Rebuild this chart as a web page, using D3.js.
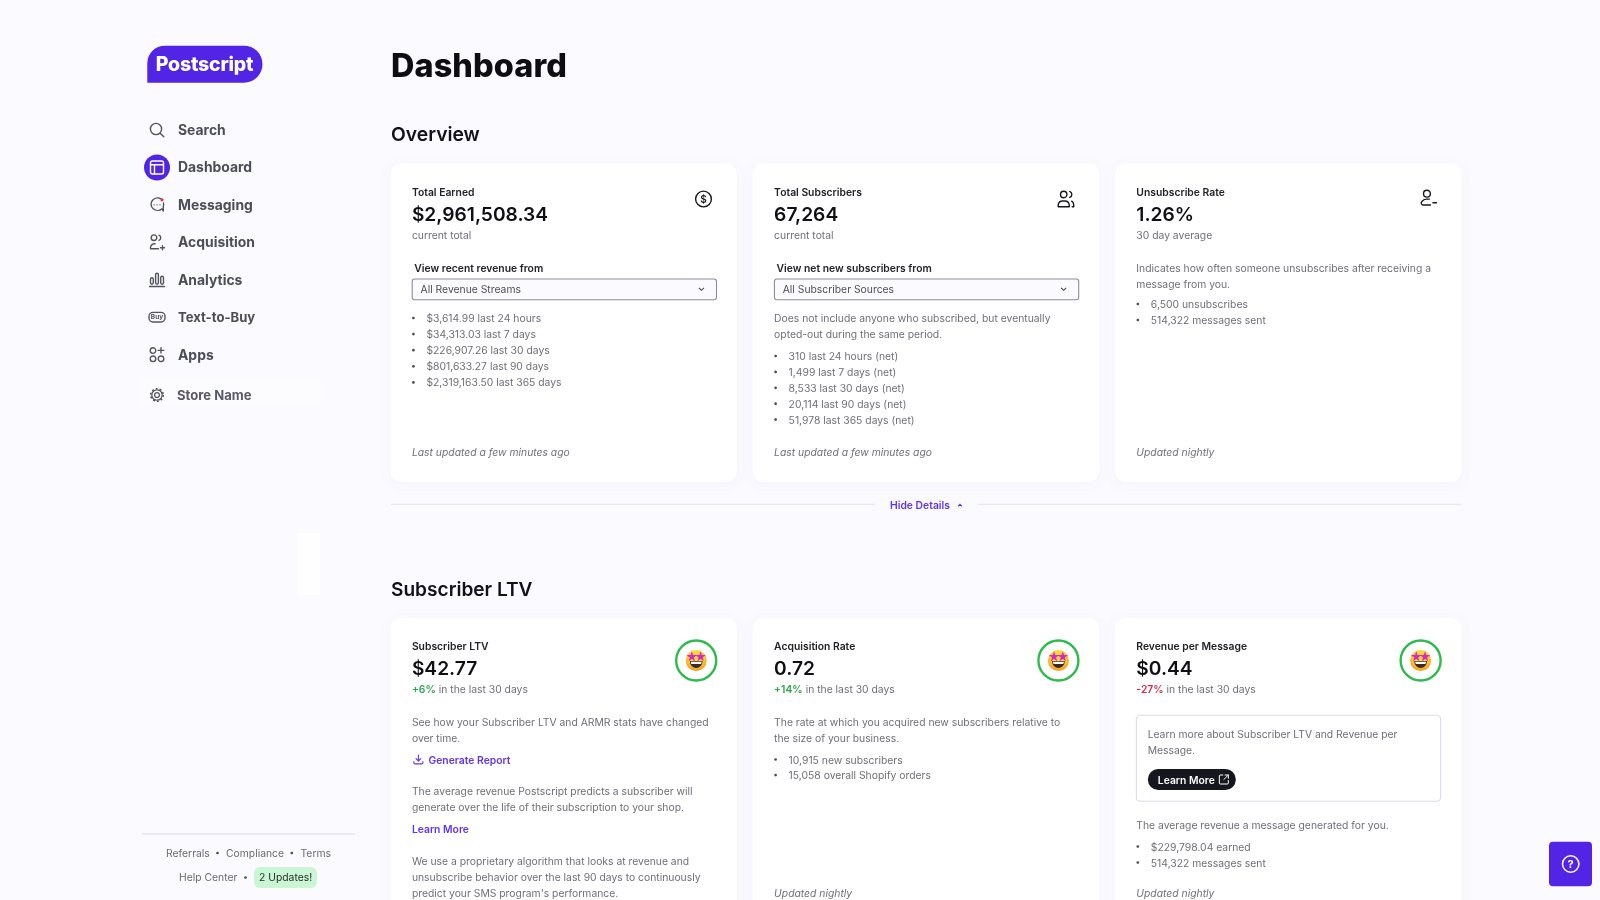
<!DOCTYPE html>
<html><head><meta charset="utf-8">
<script src="https://cdn.jsdelivr.net/npm/d3@7"></script>
<style>
html,body{margin:0;padding:0;background:#fafaff;overflow:hidden}
svg{display:block;filter:blur(0.35px)}
text{font-family:Inter,"Noto Sans",sans-serif;dominant-baseline:central}
</style></head><body>
<svg id="page" width="1600" height="900"></svg>
<script>
// ---------- content ----------
const navItems = ["Search","Dashboard","Messaging","Acquisition","Analytics","Text-to-Buy","Apps"];
const footerRow1 = ["Referrals","Compliance","Terms"];
const overviewTitles = ["Total Earned","Total Subscribers","Unsubscribe Rate"];
const overviewValues = ["$2,961,508.34","67,264","1.26%"];
const overviewSubs = ["current total","current total","30 day average"];
const selectLabels = ["View recent revenue from","View net new subscribers from"];
const selectValues = ["All Revenue Streams","All Subscriber Sources"];
const revenueList = ["$3,614.99 last 24 hours","$34,313.03 last 7 days","$226,907.26 last 30 days","$801,633.27 last 90 days","$2,319,163.50 last 365 days"];
const subscribersNote = ["Does not include anyone who subscribed, but eventually","opted-out during the same period."];
const subscribersList = ["310 last 24 hours (net)","1,499 last 7 days (net)","8,533 last 30 days (net)","20,114 last 90 days (net)","51,978 last 365 days (net)"];
const unsubNote = ["Indicates how often someone unsubscribes after receiving a","message from you."];
const unsubList = ["6,500 unsubscribes","514,322 messages sent"];
const overviewFooters = ["Last updated a few minutes ago","Last updated a few minutes ago","Updated nightly"];
const ltvTitles = ["Subscriber LTV","Acquisition Rate","Revenue per Message"];
const ltvValues = ["$42.77","0.72","$0.44"];
const ltvChanges = ["+6%","+14%","-27%"];
const ltvChangeSuffix = "in the last 30 days";
const ltvNote1 = ["See how your Subscriber LTV and ARMR stats have changed","over time."];
const ltvNote2 = ["The average revenue Postscript predicts a subscriber will","generate over the life of their subscription to your shop."];
const ltvNote3 = ["We use a proprietary algorithm that looks at revenue and","unsubscribe behavior over the last 90 days to continuously","predict your SMS program's performance."];
const acqNote = ["The rate at which you acquired new subscribers relative to","the size of your business."];
const acqList = ["10,915 new subscribers","15,058 overall Shopify orders"];
const rpmBox = ["Learn more about Subscriber LTV and Revenue per","Message."];
const rpmNote = "The average revenue a message generated for you.";
const rpmList = ["$229,798.04 earned","514,322 messages sent"];

// ---------- layout scales ----------
const svg = d3.select("#page");
const cardX = d3.scaleBand().domain([0,1,2]).range([390.5,1461.4]).paddingInner(0.0435).paddingOuter(0);
const navY = d3.scalePoint().domain(navItems).range([130,354.6]);
const INK="#17171f", GREY="#6f6f7a", PURPLE="#5f34f2", LINE="#e8e8f0";
const BODY=10.35, SMALLHEAD=10.35, VALUE=19.2;

const defs = svg.append("defs");
const sh = defs.append("filter").attr("id","cardShadow").attr("x","-5%").attr("y","-5%").attr("width","110%").attr("height","110%");
sh.append("feDropShadow").attr("dx",0).attr("dy",2).attr("stdDeviation",6).attr("flood-color","#8080b0").attr("flood-opacity",0.05);
const grad = defs.append("radialGradient").attr("id","emojiFace").attr("cy","35%").attr("r","70%");
grad.append("stop").attr("offset","45%").attr("stop-color","#fdd835");
grad.append("stop").attr("offset","100%").attr("stop-color","#f58e1e");

function txt(g,x,y,s,opt={}){
  return g.append("text").attr("x",x).attr("y",y).text(s)
    .attr("font-size",opt.size||BODY).attr("font-weight",opt.weight||400)
    .attr("fill",opt.fill||GREY).attr("font-style",opt.italic?"italic":null)
    .attr("letter-spacing",opt.ls||null).attr("font-family",opt.family||null)
    .attr("text-anchor",opt.anchor||null);
}
function lines(g,x,y0,arr,step=15.95){
  g.selectAll(null).data(arr).join("text")
   .attr("x",x).attr("y",(d,i)=>y0+i*step).text(d=>d)
   .attr("font-size",BODY).attr("fill",GREY);
}
function bullets(g,xBullet,xText,y0,arr,step=15.8){
  lines(g,xText,y0,arr,step);
  g.selectAll(null).data(arr).join("circle")
   .attr("cx",xBullet).attr("cy",(d,i)=>y0+i*step).attr("r",1.35).attr("fill","#4a4a55");
}
function icon(x,y,color=INK,w=1.4){
  return svg.append("g").attr("transform",`translate(${x},${y})`)
    .attr("fill","none").attr("stroke",color).attr("stroke-width",w)
    .attr("stroke-linecap","round").attr("stroke-linejoin","round");
}

// ---------- faint patches of the page background ----------
svg.append("rect").attr("x",297).attr("y",533).attr("width",23).attr("height",62).attr("fill","#fefeff");
svg.append("rect").attr("x",141).attr("y",380).attr("width",180).attr("height",24).attr("fill","#fcfcff");

// ---------- sidebar ----------
svg.append("path").attr("fill","#5225e6")
  .attr("d","M147.3,82.7 V63 A17.5,17.5 0 0 1 164.8,45.7 H244 A18.5,18.5 0 0 1 244,82.7 Z");
txt(svg,204.5,64,"Postscript",{size:19.5,weight:800,fill:"#fff",anchor:"middle",ls:"-0.2px"});

svg.append("circle").attr("cx",157).attr("cy",navY("Dashboard")).attr("r",13).attr("fill","#5225e6");
svg.selectAll("text.nav").data(navItems).join("text").attr("class","nav")
  .attr("x",178).attr("y",d=>navY(d)).text(d=>d)
  .attr("font-size",d=>d==="Text-to-Buy"?13.1:13.9).attr("font-weight",700).attr("fill","#4d4d59");
txt(svg,177,395,"Store Name",{size:13.1,weight:700,fill:"#5a5a66"});

const C="#54545f";
let ic=icon(157,navY("Search"),C);
ic.append("circle").attr("cx",-1).attr("cy",-1).attr("r",5.6); ic.append("path").attr("d","M3.2,3.2 L6.8,6.8");
ic=icon(157,navY("Dashboard"),"#fff");
ic.append("rect").attr("x",-6.5).attr("y",-6.5).attr("width",13).attr("height",13).attr("rx",2);
ic.append("path").attr("d","M-6.5,-2.7 H6.5 M-2.5,-2.7 V6.5");
ic=icon(157,navY("Messaging"),C);
ic.append("path").attr("d","M4,-6 A6.6,6.2 0 1 0 5,4 L6.3,6.2 L6.3,1.5 A6,6 0 0 0 6.5,-2");
ic.append("path").attr("d","M-3,0 h0.1 M0,0 h0.1 M3,0 h0.1");
ic.append("circle").attr("cx",5).attr("cy",-5).attr("r",1.6).attr("fill","#f0304f").attr("stroke","none");
ic=icon(157,navY("Acquisition"),C);
ic.append("circle").attr("cx",-3).attr("cy",-4.6).attr("r",2.8);
ic.append("path").attr("d","M2,-7.2 A2.8,2.8 0 0 1 2,-2 M1.5,6.5 H-6.5 V5 A4,4 0 0 1 -2,1.5 M3.5,5.5 H7.5 M5.5,3.5 V7.5");
ic=icon(157,navY("Analytics"),C);
ic.append("rect").attr("x",-6.5).attr("y",-2).attr("width",2.8).attr("height",6.5).attr("rx",1.4);
ic.append("rect").attr("x",-1.4).attr("y",-6.5).attr("width",2.8).attr("height",11).attr("rx",1.4);
ic.append("rect").attr("x",3.7).attr("y",-3.5).attr("width",2.8).attr("height",8).attr("rx",1.4);
ic.append("path").attr("d","M-7.5,6.8 H7.5");
ic=icon(157,navY("Text-to-Buy"),C);
ic.append("rect").attr("x",-8).attr("y",-4.8).attr("width",16).attr("height",9.6).attr("rx",4);
txt(svg,157,navY("Text-to-Buy"),"Buy",{size:6.5,weight:700,fill:C,anchor:"middle"});
ic=icon(157,navY("Apps"),C);
[[-4,-4],[-4,4.2],[4,4.2]].forEach(p=>ic.append("circle").attr("cx",p[0]).attr("cy",p[1]).attr("r",2.8));
ic.append("path").attr("d","M4,-7 V-1.5 M1.2,-4.2 H6.8");
ic=icon(157,395,C,1.3);
ic.append("circle").attr("r",2.4);
ic.append("circle").attr("r",5.2);
ic.append("circle").attr("r",6.3).attr("stroke-dasharray","1.9 2.05").attr("stroke-width",1.6).attr("stroke-linecap","butt");

// footer
svg.append("line").attr("x1",141.7).attr("x2",355).attr("y1",834).attr("y2",834).attr("stroke","#e4e4ee").attr("stroke-width",1.3);
const fx=[166,226,300.5];
footerRow1.forEach((s,i)=>txt(svg,fx[i],852.7,s,{fill:"#6a6a75"}));
[217.5,291.8].forEach(x=>svg.append("circle").attr("cx",x).attr("cy",853).attr("r",1.35).attr("fill","#4a4a55"));
txt(svg,179,876.7,"Help Center",{fill:"#6a6a75"});
svg.append("circle").attr("cx",245.5).attr("cy",877.5).attr("r",1.35).attr("fill","#4a4a55");
svg.append("rect").attr("x",254).attr("y",867).attr("width",63).attr("height",21).attr("rx",6).attr("fill","#c9f7d3");
txt(svg,259,876.7,"2 Updates!",{fill:"#2a2a32"});

// ---------- headings ----------
txt(svg,391,65,"Dashboard",{size:32.4,weight:800,fill:"#0d0d12",ls:"0.1px"});
txt(svg,391,134,"Overview",{size:19.3,weight:600,fill:"#111118"});
txt(svg,391,589,"Subscriber LTV",{size:19.1,weight:600,fill:"#111118"});

// ---------- cards ----------
function card(i,top,bottom){
  const g = svg.append("g").attr("transform",`translate(${cardX(i)},0)`);
  g.append("rect").attr("x",0).attr("y",top).attr("width",cardX.bandwidth()).attr("height",bottom-top)
    .attr("rx",11).attr("fill","#fff").attr("filter","url(#cardShadow)");
  return g;
}
const PAD=21.4;
const ovr=[0,1,2].map(i=>card(i,163.5,482));
ovr.forEach((g,i)=>{
  txt(g,PAD,192,overviewTitles[i],{size:SMALLHEAD,weight:600,fill:"#22222a"});
  txt(g,PAD,213.7,overviewValues[i],{size:VALUE,weight:600,fill:"#0f0f15"});
  txt(g,PAD,235,overviewSubs[i]);
  txt(g,PAD,452,overviewFooters[i],{italic:true});
});
[0,1].forEach(i=>{
  const g=ovr[i];
  txt(g,PAD+2.4,268,selectLabels[i],{size:SMALLHEAD,weight:600,fill:"#22222a"});
  g.append("rect").attr("x",PAD+0.3).attr("y",279).attr("width",304.3).attr("height",20.8).attr("rx",2.5)
    .attr("fill","#fbfbff").attr("stroke","#8c8c9c").attr("stroke-width",1.1);
  txt(g,PAD+8.6,288.8,selectValues[i],{fill:"#4d4d58"});
  g.append("path").attr("d",`M${PAD+287},287.8 l2.5,2.5 l2.5,-2.5`).attr("fill","none").attr("stroke","#44444f").attr("stroke-width",1.1);
});
bullets(ovr[0],PAD+1.5,PAD+14.5,318,revenueList,16.1);
lines(ovr[1],PAD,318,subscribersNote);
bullets(ovr[1],PAD+1.5,PAD+14.5,356,subscribersList,15.9);
lines(ovr[2],PAD,268,unsubNote);
bullets(ovr[2],PAD+1.5,PAD+14.5,304,unsubList,16);

// overview icons
ic=icon(cardX(0)+313,199,INK,1.4);
ic.append("circle").attr("r",7.9);
txt(ic,0,0.3,"$",{size:10,weight:600,fill:INK,anchor:"middle"}).attr("stroke","none");
ic=icon(cardX(1)+313,199,INK,1.4);
ic.append("circle").attr("cx",-2).attr("cy",-4.5).attr("r",3.2);
ic.append("path").attr("d","M4,-7.6 A3.2,3.2 0 0 1 4,-1.6 M-7.5,7.8 H3.5 V5.8 A4.5,4.5 0 0 0 -1,2 H-3 A4.5,4.5 0 0 0 -7.5,5.8 Z M6,2.2 A4.5,4.5 0 0 1 8,6 V7.8 H6.5");
ic=icon(cardX(2)+312.5,198.5,INK,1.4);
ic.append("circle").attr("cx",-0.5).attr("cy",-4.8).attr("r",3.4);
ic.append("path").attr("d","M3,6.5 H-4.5 A2,2 0 0 1 -5.5,3 A6,6 0 0 1 -1,0.6 H2 M5.5,4.2 H9");

// hide details
svg.append("line").attr("x1",391).attr("x2",875).attr("y1",504.3).attr("y2",504.3).attr("stroke",LINE).attr("stroke-width",1.3);
svg.append("line").attr("x1",978).attr("x2",1461.4).attr("y1",504.3).attr("y2",504.3).attr("stroke",LINE).attr("stroke-width",1.3);
txt(svg,890,504.6,"Hide Details",{weight:600,fill:PURPLE});
svg.append("path").attr("d","M958,506.3 l2,-2 l2,2").attr("fill","none").attr("stroke",PURPLE).attr("stroke-width",1.1);

// subscriber LTV cards
const ltv=[0,1,2].map(i=>card(i,618,930));
const changeCol=["#2aa84a","#2aa84a","#c9304f"];
ltv.forEach((g,i)=>{
  txt(g,PAD,646,ltvTitles[i],{size:SMALLHEAD,weight:600,fill:"#22222a"});
  txt(g,PAD,668,ltvValues[i],{size:VALUE,weight:600,fill:"#0f0f15"});
  const t=txt(g,PAD,689,"");
  t.append("tspan").attr("fill",changeCol[i]).attr("font-weight",600).text(ltvChanges[i]);
  t.append("tspan").text(" "+ltvChangeSuffix);
  // emoji badge
  const e=g.append("g").attr("transform",`translate(305.7,660.5)`);
  e.append("circle").attr("r",20).attr("fill","#fff").attr("stroke","#2dbb4c").attr("stroke-width",2.4);
  e.append("circle").attr("r",10.5).attr("fill","url(#emojiFace)");
  [-4.4,4.4].forEach(x=>e.append("path").attr("transform",`translate(${x},-3.7)`).attr("d",d3.symbol(d3.symbolStar,34)()).attr("fill","#d629c9"));
  e.append("path").attr("d","M-6.4,0.6 H6.4 A6.4,7 0 0 1 -6.4,0.6 Z").attr("fill","#3a2a2a");
  e.append("path").attr("d","M-5.6,1.2 H5.6 L4.8,3.4 H-4.8 Z").attr("fill","#fff");
});
// card 1
lines(ltv[0],PAD,721.7,ltvNote1);
ic=icon(cardX(0)+PAD+6.5,759.5,PURPLE,1.1);
ic.append("path").attr("d","M0,-4.5 V1.5 M-2.4,-0.8 L0,1.5 L2.4,-0.8 M-4.5,2 V3.2 A1.2,1.2 0 0 0 -3.3,4.4 H3.3 A1.2,1.2 0 0 0 4.5,3.2 V2");
txt(ltv[0],PAD+16.6,759.5,"Generate Report",{weight:600,fill:PURPLE});
lines(ltv[0],PAD,791,ltvNote2);
txt(ltv[0],PAD,829,"Learn More",{weight:600,fill:PURPLE});
lines(ltv[0],PAD,860.5,ltvNote3,16.2);
// card 2
lines(ltv[1],PAD,721.7,acqNote);
bullets(ltv[1],PAD+1.5,PAD+14.5,759.5,acqList,15.6);
txt(ltv[1],PAD,893,"Updated nightly",{italic:true});
// card 3
const g3=ltv[2];
g3.append("rect").attr("x",PAD).attr("y",715.3).attr("width",304.3).attr("height",86).attr("rx",4).attr("fill","#fff").attr("stroke","#dcdce6").attr("stroke-width",1.1);
lines(g3,PAD+11.3,733.7,rpmBox);
g3.append("rect").attr("x",PAD+11.5).attr("y",769).attr("width",88).attr("height",21).attr("rx",10.5).attr("fill","#16161e");
txt(g3,PAD+21.5,779.5,"Learn More",{weight:600,fill:"#fff"});
ic=icon(cardX(2)+PAD+87.5,779.5,"#fff",1);
ic.append("path").attr("d","M-1,-4.5 H-3.5 A1,1 0 0 0 -4.5,-3.5 V3.5 A1,1 0 0 0 -3.5,4.5 H3.5 A1,1 0 0 0 4.5,3.5 V1 M0,0 L4.5,-4.5 M1.2,-4.5 H4.5 V-1.2");
txt(g3,PAD,825,rpmNote);
bullets(g3,PAD+1.5,PAD+14.5,846.5,rpmList,16);
txt(g3,PAD,893,"Updated nightly",{italic:true});

// help button
svg.append("rect").attr("x",1549).attr("y",841.7).attr("width",43).attr("height",44.5).attr("rx",4).attr("fill","#5225e6");
ic=icon(1570.7,864,"#fff",1.5);
ic.append("circle").attr("r",8.2);
txt(ic,0,0.2,"?",{size:11,weight:700,fill:"#fff",anchor:"middle"}).attr("stroke","none");
</script>
</body></html>
